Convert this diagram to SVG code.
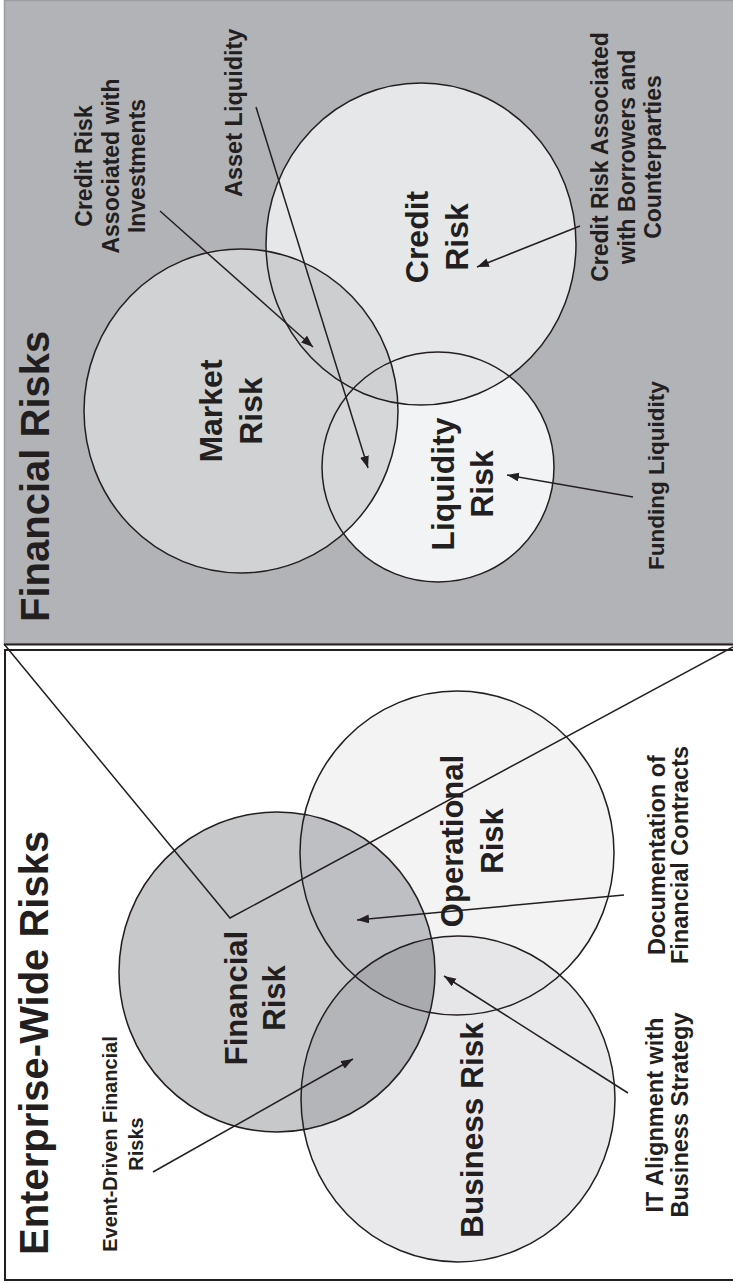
<svg xmlns="http://www.w3.org/2000/svg" xmlns:xlink="http://www.w3.org/1999/xlink" width="733" height="1283" viewBox="0 0 733 1283">
<style>
.t{font-family:"Liberation Sans",Arial,Helvetica,sans-serif;font-weight:bold;fill:#231f20}
.edge{fill:none;stroke:#231f20;stroke-width:1.5}
.arr{fill:none;stroke:#231f20;stroke-width:1.5;marker-end:url(#ah)}
</style>
<defs>
<marker id="ah" markerWidth="13" markerHeight="10" refX="12" refY="4.5" orient="auto" markerUnits="userSpaceOnUse"><path d="M0,0 L12,4.5 L0,9 z" fill="#231f20"/></marker>
<ellipse id="eM" cx="241" cy="411" rx="157" ry="162"/>
<ellipse id="eC" cx="421" cy="244" rx="155" ry="161"/>
<ellipse id="eL" cx="438" cy="467" rx="116" ry="115"/>
<ellipse id="eF" cx="277" cy="972" rx="158" ry="160"/>
<ellipse id="eO" cx="457" cy="853" rx="157" ry="162"/>
<ellipse id="eB" cx="458" cy="1099" rx="157" ry="163"/>
<clipPath id="cM"><use xlink:href="#eM"/></clipPath>
<clipPath id="cC"><use xlink:href="#eC"/></clipPath>
<clipPath id="cL"><use xlink:href="#eL"/></clipPath>
<clipPath id="cF"><use xlink:href="#eF"/></clipPath>
<clipPath id="cO"><use xlink:href="#eO"/></clipPath>
<clipPath id="cB"><use xlink:href="#eB"/></clipPath>
</defs>

<!-- Top panel: Financial Risks -->
<g id="financial-risks-panel">
<rect x="4.5" y="0.5" width="740" height="643" fill="#b2b3b7" stroke="#9c9da1" stroke-width="1.5"/>
<line x1="4" y1="644.5" x2="733" y2="644.5" stroke="#231f20" stroke-width="2"/>
<text class="t" font-size="40" transform="translate(49,622) rotate(-90)">Financial Risks</text>
</g>

<g id="market-risk">
<use xlink:href="#eM" fill="#d1d2d4"/>
</g>
<g id="credit-risk">
<use xlink:href="#eC" fill="#e6e7e9"/>
</g>
<g id="liquidity-risk">
<use xlink:href="#eL" fill="#f2f3f4"/>
</g>
<g id="top-overlaps">
<use xlink:href="#eC" fill="#cdced0" clip-path="url(#cM)"/>
<use xlink:href="#eL" fill="#d6d7d9" clip-path="url(#cM)"/>
<use xlink:href="#eL" fill="#e6e7e9" clip-path="url(#cC)"/>
<g clip-path="url(#cM)"><use xlink:href="#eL" fill="#cfd0d2" clip-path="url(#cC)"/></g>
</g>
<g id="top-edges">
<use xlink:href="#eM" class="edge"/>
<use xlink:href="#eC" class="edge"/>
<use xlink:href="#eL" class="edge"/>
</g>
<g id="top-labels">
<text class="t" font-size="32" text-anchor="middle" transform="translate(222,411) rotate(-90)"><tspan x="0" y="0">Market</tspan><tspan x="0" y="40">Risk</tspan></text>
<text class="t" font-size="32" text-anchor="middle" transform="translate(428,237) rotate(-90)"><tspan x="0" y="0">Credit</tspan><tspan x="0" y="40">Risk</tspan></text>
<text class="t" font-size="32" text-anchor="middle" transform="translate(454,484) rotate(-90)"><tspan x="0" y="0">Liquidity</tspan><tspan x="0" y="39">Risk</tspan></text>
<text class="t" font-size="23" text-anchor="middle" transform="translate(92,166) rotate(-90)"><tspan x="0" y="0">Credit Risk</tspan><tspan x="0" y="26.5">Associated with</tspan><tspan x="0" y="53">Investments</tspan></text>
<text class="t" font-size="23.5" transform="translate(242,197) rotate(-90)">Asset Liquidity</text>
<text class="t" font-size="23" text-anchor="middle" transform="translate(608,157) rotate(-90)"><tspan x="0" y="0">Credit Risk Associated</tspan><tspan x="0" y="27">with Borrowers and</tspan><tspan x="0" y="53">Counterparties</tspan></text>
<text class="t" font-size="22.5" transform="translate(664,570) rotate(-90)">Funding Liquidity</text>
</g>

<!-- Bottom panel: Enterprise-Wide Risks -->
<g id="enterprise-panel">
<rect x="5" y="650" width="740" height="630" fill="#ffffff" stroke="#231f20" stroke-width="2"/>
<text class="t" font-size="40" transform="translate(48,1255) rotate(-90)">Enterprise-Wide Risks</text>
</g>
<g id="financial-risk">
<use xlink:href="#eF" fill="#c7c8ca"/>
</g>
<g id="operational-risk">
<use xlink:href="#eO" fill="#f3f3f4"/>
</g>
<g id="business-risk">
<use xlink:href="#eB" fill="#e9e9eb"/>
</g>
<g id="bottom-overlaps">
<use xlink:href="#eO" fill="#bebfc2" clip-path="url(#cF)"/>
<use xlink:href="#eB" fill="#b4b5b8" clip-path="url(#cF)"/>
<use xlink:href="#eB" fill="#e6e6e8" clip-path="url(#cO)"/>
<g clip-path="url(#cF)"><use xlink:href="#eB" fill="#a9aaad" clip-path="url(#cO)"/></g>
</g>
<g id="bottom-edges">
<use xlink:href="#eF" class="edge"/>
<use xlink:href="#eO" class="edge"/>
<use xlink:href="#eB" class="edge"/>
</g>

<g id="connectors">
<polyline points="4,644 230,918 733,647" class="edge"/>
<line x1="160" y1="211" x2="313" y2="347" class="arr"/>
<line x1="256" y1="107" x2="368" y2="468" class="arr"/>
<line x1="580" y1="226" x2="477" y2="267" class="arr"/>
<line x1="633" y1="497" x2="507" y2="475" class="arr"/>
<line x1="153" y1="1172" x2="353" y2="1059" class="arr"/>
<line x1="624" y1="895" x2="357" y2="920" class="arr"/>
<line x1="628" y1="1093" x2="444" y2="976" class="arr"/>
</g>

<g id="bottom-labels">
<text class="t" font-size="31" text-anchor="middle" transform="translate(247,998) rotate(-90)"><tspan x="0" y="0">Financial</tspan><tspan x="0" y="38">Risk</tspan></text>
<text class="t" font-size="31" text-anchor="middle" transform="translate(463,841) rotate(-90)"><tspan x="0" y="0">Operational</tspan><tspan x="0" y="40">Risk</tspan></text>
<text class="t" font-size="31.5" text-anchor="middle" transform="translate(483,1130) rotate(-90)">Business Risk</text>
<text class="t" font-size="20" text-anchor="middle" transform="translate(117,1144) rotate(-90)"><tspan x="0" y="0">Event-Driven Financial</tspan><tspan x="0" y="26">Risks</tspan></text>
<text class="t" font-size="23.5" text-anchor="middle" transform="translate(663,1115) rotate(-90)"><tspan x="0" y="0">IT Alignment with</tspan><tspan x="0" y="25">Business Strategy</tspan></text>
<text class="t" font-size="23.5" text-anchor="middle" transform="translate(665,855) rotate(-90)"><tspan x="0" y="0">Documentation of</tspan><tspan x="0" y="23">Financial Contracts</tspan></text>
</g>
</svg>
